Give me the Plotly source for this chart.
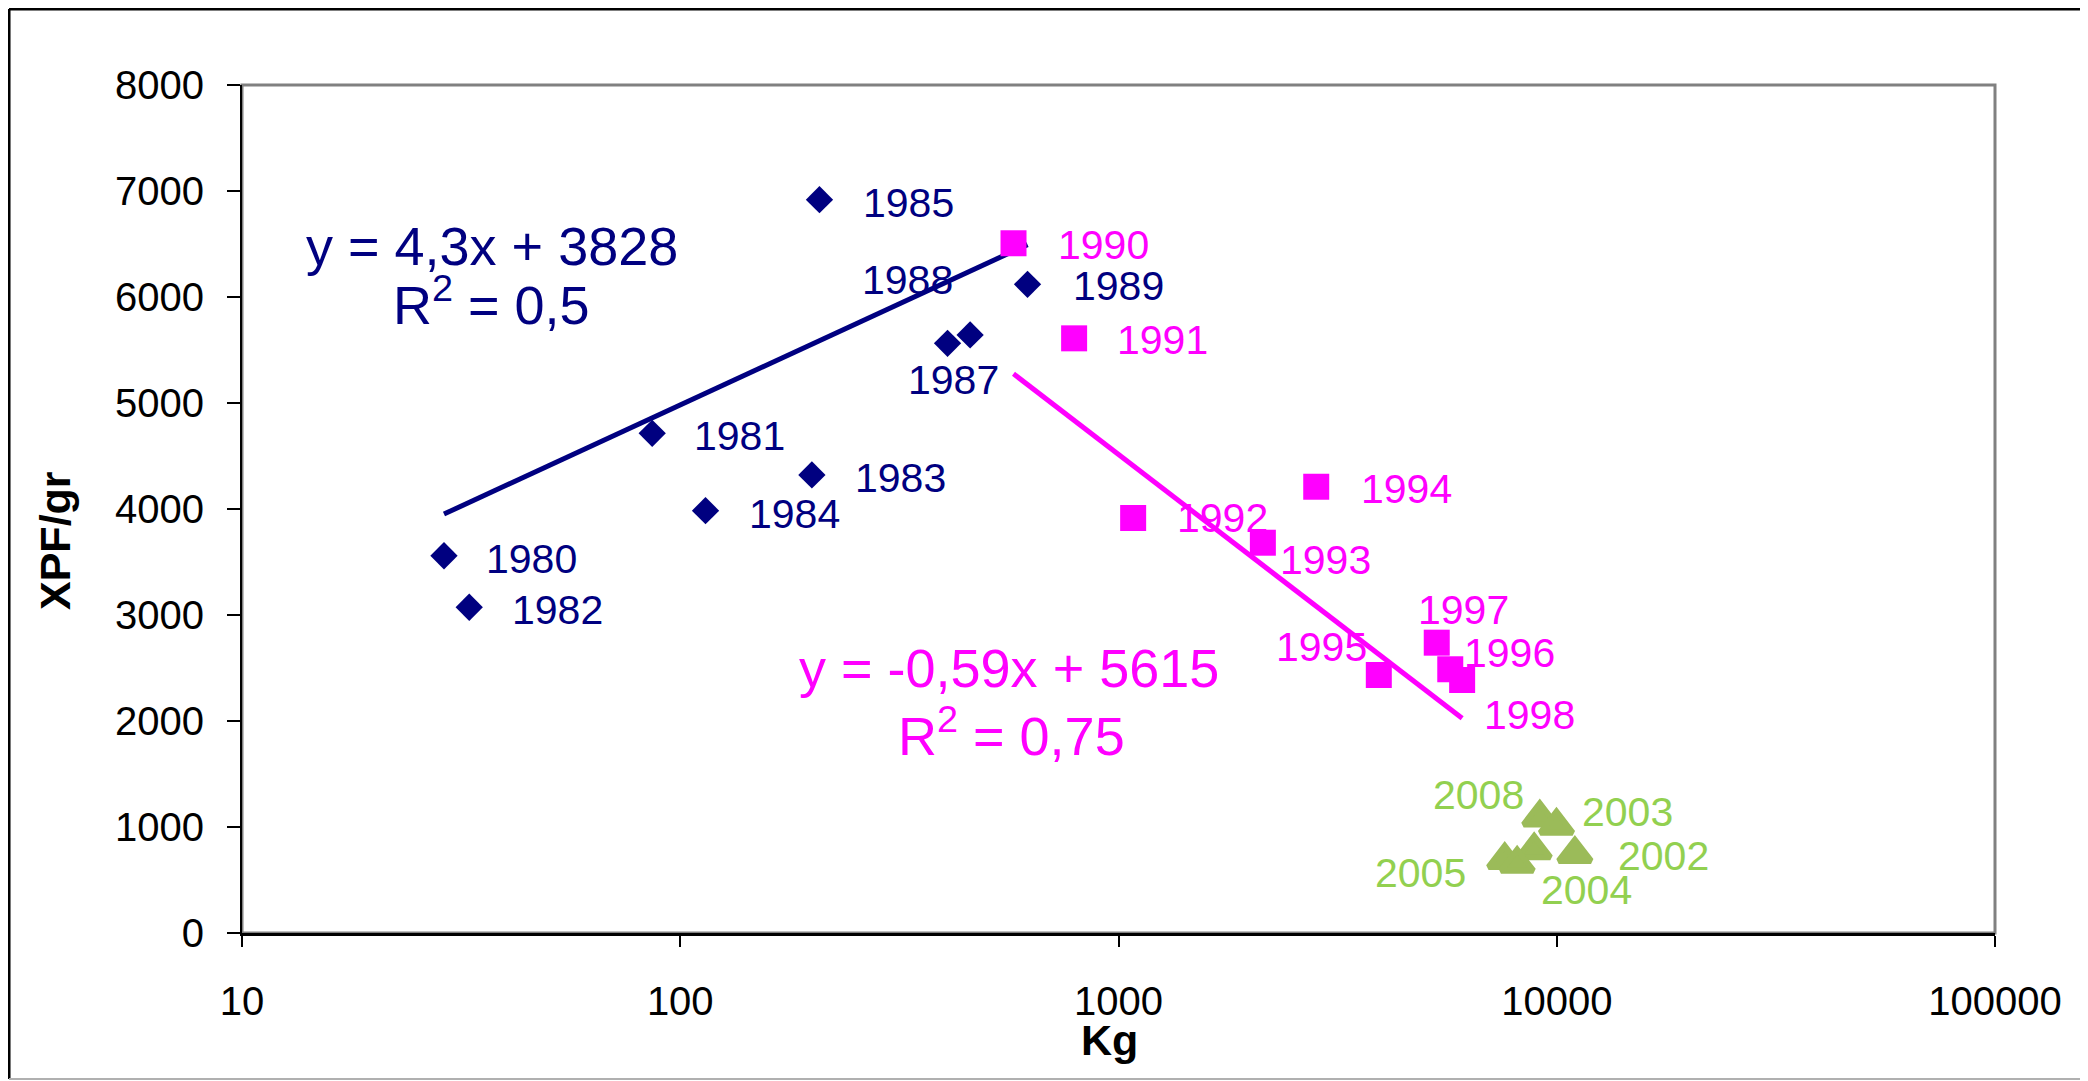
import numpy as np
import plotly.graph_objects as go

# Série 1980-1989 (bleu marine)
annees_1 = ['1980', '1981', '1982', '1983', '1984', '1985', '1987', '1988', '1989']
kg_1 = [28.9, 86.3, 33.0, 199.7, 114.2, 207.8, 407.3, 458.6, 620]
prix_1 = [3559, 4714, 3073, 4321, 3984, 6918, 5563, 5642, 6120]

# Série 1990-1998 (magenta)
annees_2 = ['1990', '1991', '1992', '1993', '1994', '1995', '1996', '1997', '1998']
kg_2 = [576, 792, 1080, 2135, 2826, 3926, 5715, 5323, 6083]
prix_2 = [6507, 5610, 3915, 3682, 4210, 2434, 2488, 2739, 2387]

# Série 2002-2008 (vert), un point sans étiquette
annees_3 = ['2008', '2003', '', '2002', '2005', '2004']
kg_3 = [9148, 9986, 8882, 10998, 7608, 8121]
prix_3 = [1090, 1012, 781, 746, 689, 654]

# Courbes de tendance (valeurs affichées sur le graphique)
pente_1, origine_1, r2_1 = 4.3, 3828, '0,5'
pente_2, origine_2, r2_2 = -0.59, 5615, '0,75'

x_ticks = [10, 100, 1000, 10000, 100000]
y_ticks = [0, 1000, 2000, 3000, 4000, 5000, 6000, 7000, 8000]

# décalage des étiquettes en pixels (dx, dy vers le bas)
decal_1 = [(88, 3), (87, 3), (88, 3), (89, 3), (89, 3), (89, 3), (6, 37), (-63, -55), (91, 2)]
decal_2 = [(90, 2), (88, 2), (89, 0), (63, 17), (90, 2), (-57, -28), (59, -16), (27, -33), (67, 35)]
decal_3 = [(-61, -22), (71, -14), (0, 0), (89, 2), (-84, 13), (69, 26)]

NAVY = '#000080'
MAGENTA = '#FF00FF'
VERT = '#9BBB59'
VERT_TXT = '#92D050'
FONT = 'Liberation Sans, Arial, sans-serif'

fig = go.Figure()

# lignes de tendance
for kg, pente, origine, couleur in [(kg_1, pente_1, origine_1, NAVY), (kg_2, pente_2, origine_2, MAGENTA)]:
    xs = [min(kg), max(kg)]
    fig.add_trace(go.Scatter(
        x=xs, y=[pente * v + origine for v in xs],
        mode='lines', line=dict(color=couleur, width=5), showlegend=False, hoverinfo='skip'
    ))

fig.add_trace(go.Scatter(
    x=kg_1, y=prix_1, mode='markers',
    marker=dict(symbol='diamond', size=21, color=NAVY), showlegend=False
))
fig.add_trace(go.Scatter(
    x=kg_2, y=prix_2, mode='markers',
    marker=dict(symbol='square', size=26, color=MAGENTA), showlegend=False
))
# triangles : contour épais pour les rendre plus hauts
fig.add_trace(go.Scatter(
    x=kg_3, y=prix_3, mode='markers',
    marker=dict(symbol='triangle-up', size=28, color=VERT, line=dict(color=VERT, width=6)),
    showlegend=False
))

# étiquettes des années
annotations = []
for annees, kg, prix, decal, couleur in [
    (annees_1, kg_1, prix_1, decal_1, NAVY),
    (annees_2, kg_2, prix_2, decal_2, MAGENTA),
    (annees_3, kg_3, prix_3, decal_3, VERT_TXT),
]:
    for a, x, y, (dx, dy) in zip(annees, kg, prix, decal):
        if not a:
            continue
        annotations.append(dict(
            x=np.log10(x), y=y, xref='x', yref='y', text=a, showarrow=False,
            xanchor='center', yanchor='middle',
            xshift=dx, yshift=-dy, font=dict(size=41, color=couleur, family=FONT)
        ))


def texte(x, y, t, couleur, taille, angle=0):
    return dict(x=x, y=y, xref='paper', yref='paper', text=t, showarrow=False,
                xanchor='center', yanchor='middle', textangle=angle,
                font=dict(size=taille, color=couleur, family=FONT))


# équations des tendances
annotations.append(texte(0.1426, 0.8101, 'y = %sx + %d' % (str(pente_1).replace('.', ','), origine_1), NAVY, 54))
annotations.append(texte(0.1426, 0.7447, 'R<sup>2</sup> = %s' % r2_1, NAVY, 54))
annotations.append(texte(0.4375, 0.3125, 'y = %sx + %d' % (str(pente_2).replace('.', ','), origine_2), MAGENTA, 54))
annotations.append(texte(0.4392, 0.2376, 'R<sup>2</sup> = %s' % r2_2, MAGENTA, 54))

# titres des axes
annotations.append(texte(-0.1067, 0.4634, '<b>XPF/gr</b>', 'black', 43, angle=-90))
annotations.append(texte(0.4946, -0.126, '<b>Kg</b>', 'black', 43))

shapes = [
    # cadre gris de la zone de tracé
    dict(type='rect', xref='paper', yref='paper', x0=0, x1=1, y0=0, y1=1,
         line=dict(color='#808080', width=3), layer='below'),
    # cadre extérieur
    dict(type='line', xref='paper', yref='paper', x0=-0.1329, x1=-0.1329, y0=-0.1722, y1=1.0896,
         line=dict(color='black', width=3)),
    dict(type='line', xref='paper', yref='paper', x0=-0.1329, x1=1.06, y0=1.0896, y1=1.0896,
         line=dict(color='black', width=3)),
    dict(type='line', xref='paper', yref='paper', x0=-0.1329, x1=1.06, y0=-0.1722, y1=-0.1722,
         line=dict(color='#B0B0B0', width=2)),
]

# la page ajoute 8 px de marge autour de la figure
fig.update_layout(
    width=2080, height=1073, autosize=False,
    margin=dict(l=234, r=93, t=77, b=148),
    paper_bgcolor='white', plot_bgcolor='white',
    font=dict(family=FONT, size=40, color='black'),
    annotations=annotations, shapes=shapes,
    xaxis=dict(
        type='log', range=[1, 5], tickvals=x_ticks, ticktext=[str(v) for v in x_ticks],
        ticks='outside', ticklen=11, tickwidth=2, tickcolor='black',
        showline=True, linecolor='black', linewidth=3,
        showgrid=False, zeroline=False, ticklabelstandoff=20,
        tickfont=dict(size=40, family=FONT)
    ),
    yaxis=dict(
        range=[0, 8000], tickvals=y_ticks, ticktext=[str(v) for v in y_ticks],
        ticks='outside', ticklen=13, tickwidth=2, tickcolor='black',
        showline=True, linecolor='black', linewidth=2,
        showgrid=False, zeroline=False, ticklabelstandoff=15,
        tickfont=dict(size=40, family=FONT)
    ),
)

fig.write_html("out.html")
